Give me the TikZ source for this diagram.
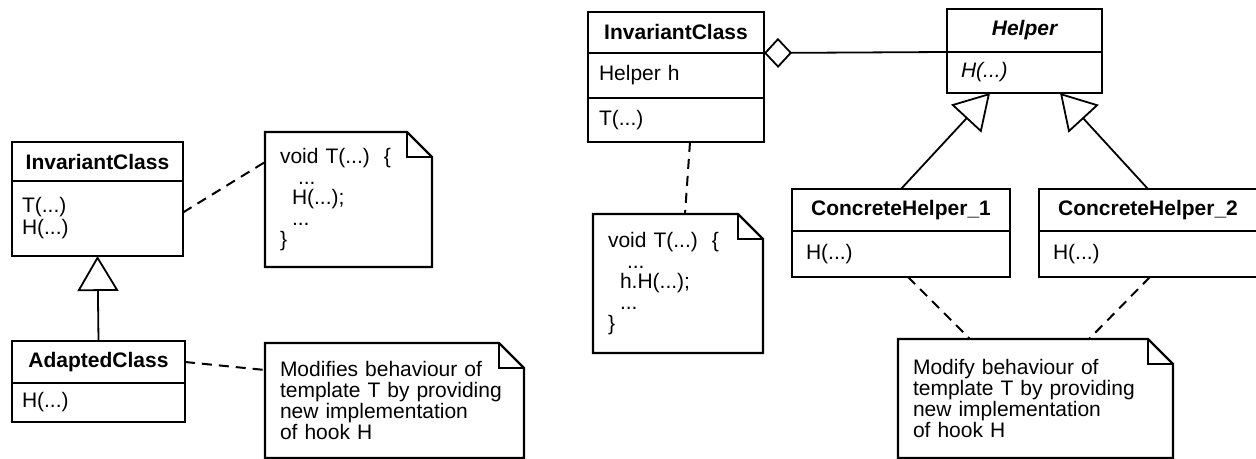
\documentclass[tikz,border=0pt]{standalone}
\usepackage{fontspec}
\setmainfont{Liberation Sans}
\usetikzlibrary{arrows.meta}

\begin{document}
\begin{tikzpicture}[x=0.5pt,y=-0.5pt,
  classhead/.style={draw,line width=1.2pt,outer sep=0pt,inner sep=0pt,anchor=north west,
    font=\fontsize{10.5}{11}\selectfont\bfseries},
  classbody/.style={draw,line width=1.2pt,outer sep=0pt,inner xsep=5pt,inner ysep=0pt,anchor=north west,
    align=left,font=\fontsize{10.5}{11}\selectfont},
  notebox/.style={outer sep=0pt,inner xsep=7.5pt,inner ysep=0pt,anchor=north west,
    align=left,font=\fontsize{10.5}{10.4}\selectfont},
  gen/.style={line width=0.9pt,-{Triangle[open,length=17.5pt,width=20.5pt]}},
  agg/.style={line width=0.9pt,{Diamond[open,length=14pt,width=15pt]}-},
  dep/.style={line width=1pt,dash pattern=on 5pt off 3.5pt}]

\useasboundingbox (0,0) rectangle (1256,459);

% left: template method with subclass
\node[classhead,minimum width=85.5pt,minimum height=19.5pt] (invL) at (12,142) {InvariantClass};
\node[classbody,minimum width=85.5pt,minimum height=37.5pt,text width=75.5pt] (invLops) at (invL.south west) {T(...)\\H(...)};
\node[classhead,minimum width=86.5pt,minimum height=21pt] (adapt) at (12,341) {AdaptedClass};
\node[classbody,minimum width=86.5pt,minimum height=19.5pt,text width=76.5pt] (adaptops) at (adapt.south west) {H(...)};

\node[notebox,minimum width=83.5pt,minimum height=67.5pt,text width=68.5pt] (codeL) at (265,132)
  {void T(...)~~\{\\\hspace*{9pt}...\\\hspace*{6pt}H(...);\\\hspace*{6pt}...\\\}};
\node[notebox,minimum width=129.5pt,minimum height=57.5pt,text width=114.5pt] (textL) at (265,343)
  {Modifies behaviour of\\template T by providing\\new implementation\\of hook H};

% right: template method with helper objects
\node[classhead,minimum width=88pt,minimum height=20.5pt] (invR) at (588,12) {InvariantClass};
\node[classbody,minimum width=88pt,minimum height=22.5pt,inner xsep=5.5pt,text width=77pt] (invRattr) at (invR.south west) {Helper h};
\node[classbody,minimum width=88pt,minimum height=22pt,inner xsep=5.5pt,text width=77pt] (invRops) at (invRattr.south west) {T(...)};

\node[classhead,minimum width=77.5pt,minimum height=21.5pt,font=\fontsize{10.5}{11}\selectfont\bfseries\itshape] (helper) at (947,9) {Helper};
\node[classbody,minimum width=77.5pt,minimum height=20.5pt,inner xsep=7pt,text width=63.5pt] (helperops) at (helper.south west) {\itshape H(...)};

\foreach \k/\x in {1/792,2/1039}{ % concrete helpers
  \node[classhead,minimum width=109pt,minimum height=21pt] (ch\k) at (\x,189) {ConcreteHelper\_\k};
  \node[classbody,minimum width=109pt,minimum height=23pt,inner xsep=7pt,text width=95pt] (ch\k ops) at (ch\k.south west) {H(...)};
}

\node[notebox,minimum width=85pt,minimum height=69.5pt,text width=70pt] (codeR) at (593,214)
  {void T(...)~~\{\\\hspace*{9.5pt}...\\\hspace*{6pt}h.H(...);\\\hspace*{6pt}...\\\}};
\node[notebox,minimum width=137.5pt,minimum height=59.5pt,text width=122.5pt] (textR) at (898,339)
  {Modify behaviour of\\template T by providing\\new implementation\\of hook H};

% note outlines with folded corner
\foreach \n in {codeL,textL,codeR,textR}{
  \draw[line width=1.2pt] (\n.north west) -- ([xshift=-12.5pt]\n.north east) -- ([yshift=-12.5pt]\n.north east)
    -- (\n.south east) -- (\n.south west) -- cycle;
  \draw[line width=1.2pt] ([xshift=-12.5pt]\n.north east) |- ([yshift=-12.5pt]\n.north east);
}

% connectors
\draw[gen] (adapt.north) -- (invLops.south);
\draw[gen] (ch1.north) -- ([xshift=21.5pt]helperops.south west);
\draw[gen] (ch2.north) -- ([xshift=-21pt]helperops.south east);
\draw[agg] (invR.south east) -- (helper.south west);

\draw[dep] ([yshift=3pt]invLops.east) -- ([yshift=-15pt]codeL.north west);
\draw[dep] (adapt.east) -- ([yshift=-13.5pt]textL.north west);
\draw[dep] ([xshift=7pt]invRops.south) -- ([xshift=3.5pt]codeR.north);
\draw[dep] ([xshift=3.5pt]ch1ops.south) -- ([xshift=36pt]textR.north west);
\draw[dep] ([xshift=1pt]ch2ops.south) -- ([xshift=-42pt]textR.north east);
\end{tikzpicture}
\end{document}
